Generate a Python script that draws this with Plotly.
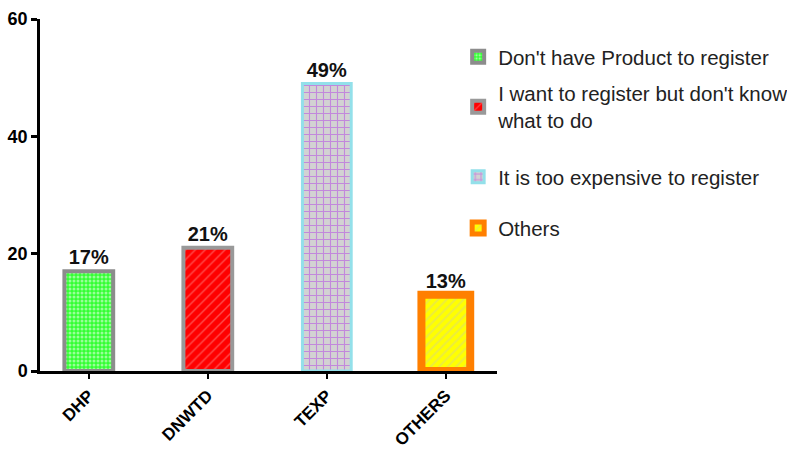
import plotly.graph_objects as go

# Reasons for not registering products (percent of respondents)
categories = ["DHP", "DNWTD", "TEXP", "OTHERS"]
values = [17, 21, 49, 13]
legend_names = [
    "Don't have Product to register",
    "I want to register but don't know<br>what to do",
    "It is too expensive to register",
    "Others",
]

# Per-bar styling: fill, outline, pattern
fills = ["#33ff33", "#ff0000", "#d2d2d2", "#ffff00"]
outlines = ["#8c8c8c", "#999999", "#93e0ea", "#ff7f00"]
outline_widths = [4, 4, 3, 8]
patterns = [
    dict(shape=".", fgcolor="#ffffff", size=4, solidity=0.45),
    dict(shape="/", fgcolor="#ff9a9a", size=7, solidity=0.2),
    dict(shape="+", fgcolor="#b23ee6", size=7, solidity=0.3),
    dict(shape="/", fgcolor="#d9d97a", size=6, solidity=0.35),
]
legend_ids = ["legend", "legend2", "legend3", "legend4"]
legend_y = [0.892, 0.75, 0.551, 0.406]

fig = go.Figure()
for i, cat in enumerate(categories):
    fig.add_trace(go.Bar(
        x=[cat],
        y=[values[i]],
        name=legend_names[i],
        width=0.41,
        marker=dict(
            color=fills[i],
            line=dict(color=outlines[i], width=outline_widths[i]),
            pattern=patterns[i],
        ),
        texttemplate="%{y}%",
        textposition="outside",
        textfont=dict(family="Liberation Sans, Arial", size=20, color="#111", weight="bold"),
        cliponaxis=False,
        legend=legend_ids[i],
    ))

legend_common = dict(
    x=0.915, xanchor="left", yanchor="middle",
    bgcolor="rgba(0,0,0,0)",
    font=dict(family="Liberation Sans, Arial", size=20.5, color="#222"),
)
layout_legends = {lid: dict(legend_common, y=legend_y[k]) for k, lid in enumerate(legend_ids)}

fig.update_layout(
    width=787, height=452,
    margin=dict(l=40, r=290, t=19, b=81, autoexpand=False),
    paper_bgcolor="white", plot_bgcolor="white",
    showlegend=True,
    bargap=0.5,
    **layout_legends,
)

fig.update_xaxes(
    type="category",
    range=[-0.41, 3.43],
    automargin=False,
    showline=True, linecolor="black", linewidth=3,
    ticks="outside", ticklen=5, tickwidth=2, tickcolor="black",
    tickangle=-45,
    tickfont=dict(family="Liberation Sans, Arial", size=17, color="black", weight="bold"),
    showgrid=False, zeroline=False,
)
fig.update_yaxes(
    range=[0, 60], dtick=20,
    automargin=False,
    showline=True, linecolor="black", linewidth=2.5,
    ticks="outside", ticklen=6, tickwidth=2.5, tickcolor="black",
    tickfont=dict(family="Liberation Sans, Arial", size=18, color="black", weight="bold"),
    showgrid=False, zeroline=False,
)

fig.write_html("out.html")
